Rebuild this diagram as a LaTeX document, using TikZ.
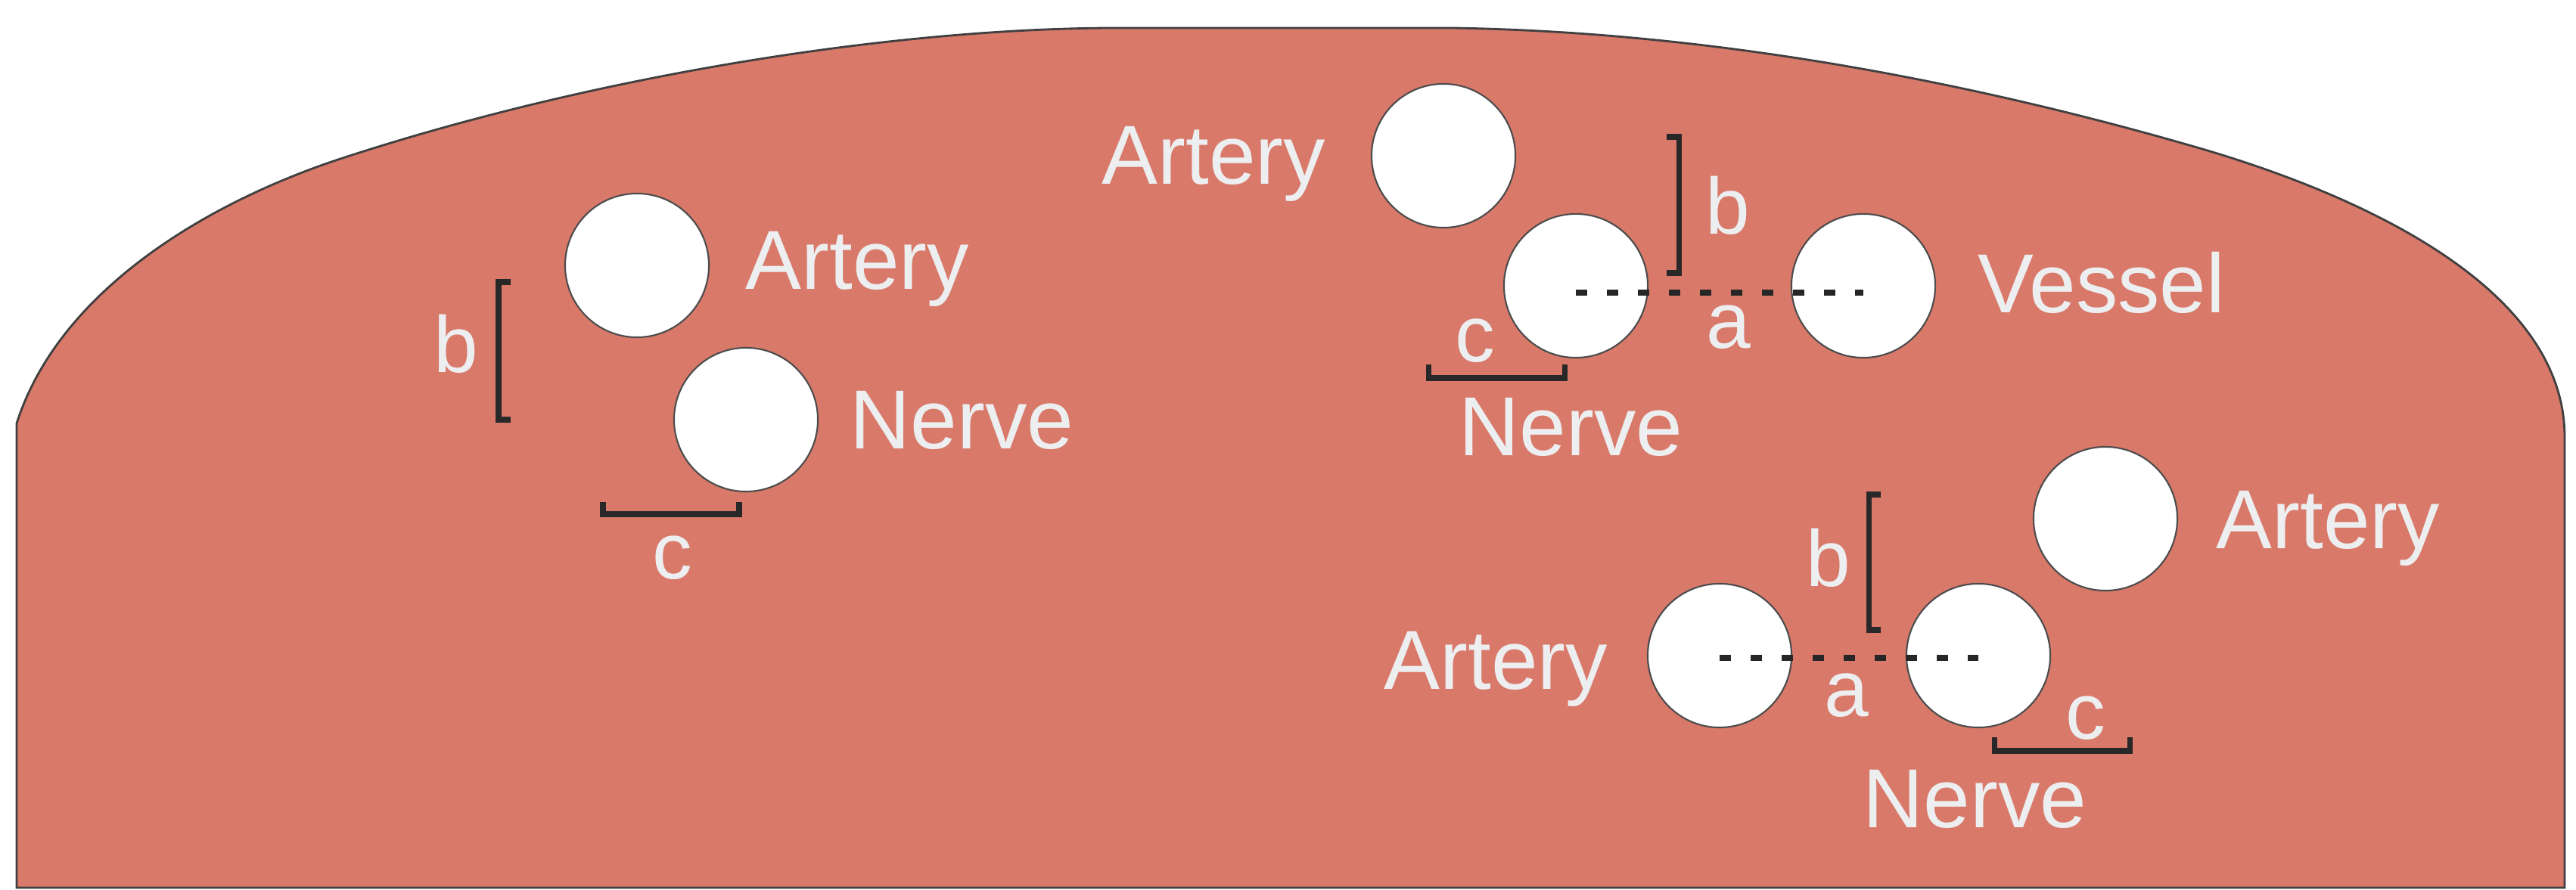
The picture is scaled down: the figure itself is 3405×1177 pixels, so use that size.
\documentclass[tikz,border=0pt]{standalone}
\usepackage{fontspec}
\setmainfont{Liberation Sans}
\definecolor{tissue}{RGB}{217,121,106}
\definecolor{labelcol}{RGB}{236,238,240}
\definecolor{ink}{RGB}{40,40,40}
\begin{document}
\begin{tikzpicture}[x=0.01cm,y=-0.01cm,
  vessel/.style={circle,draw=black!70,line width=0.6pt,fill=white,minimum size=1.9cm,inner sep=0pt},
  lab/.style={text=labelcol,font=\fontsize{31.5}{36}\selectfont,inner sep=0pt,anchor=base west},
  letter/.style={text=labelcol,font=\fontsize{30}{36}\selectfont,inner sep=0pt},
  bracketline/.style={draw=ink,line width=2pt},
  dotline/.style={draw=black!85,line width=2pt,dash pattern=on 0.15cm off 0.26cm}]
\useasboundingbox (0,0) rectangle (3405,1177);
% tissue body
\draw[fill=tissue,draw=black!75,line width=0.8pt]
  (22,1174) -- (22,560)
  .. controls (78,384) and (274,268) .. (450,210)
  .. controls (782,101) and (1178,37) .. (1478,37)
  -- (1919,37)
  .. controls (2249,42) and (2587,103) .. (2904,195)
  .. controls (3101,252) and (3390,373) .. (3390,578)
  -- (3390,1174) -- cycle;
% circles
\node[vessel] (g1art) at (842,351) {};
\node[vessel] (g1nrv) at (986,555) {};
\node[vessel] (g2art) at (1908,206) {};
\node[vessel] (g2nrv) at (2083,378) {};
\node[vessel] (g2ves) at (2463,378) {};
\node[vessel] (g3artR) at (2783,686) {};
\node[vessel] (g3artL) at (2273,867) {};
\node[vessel] (g3nrv) at (2615,867) {};
% dotted distances
\draw[dotline] ([yshift=-0.09cm]g2nrv.center) -- ([yshift=-0.09cm]g2ves.center);
\draw[dotline] ([yshift=-0.03cm]g3artL.center) -- ([yshift=-0.03cm]g3nrv.center);
% brackets
\draw[bracketline] (675,373) -- (659,373) -- (659,555) -- (675,555);
\draw[bracketline] (797,664) -- (797,680) -- (977,680) -- (977,664);
\draw[bracketline] (2203,181) -- (2219,181) -- (2219,361) -- (2203,361);
\draw[bracketline] (1888,482) -- (1888,500) -- (2068,500) -- (2068,482);
\draw[bracketline] (2486,654) -- (2470,654) -- (2470,833) -- (2486,833);
\draw[bracketline] (2636,975) -- (2636,993) -- (2815,993) -- (2815,975);
% names
\node[lab] (t1a) at (985,383) {Artery};
\node[lab] (t1n) at (1123,594) {Nerve};
\node[lab] (t2a) at (1456,244) {Artery};
\node[lab] (t2n) at (1928,603) {Nerve};
\node[lab] (t2v) at (2614,414) {Vessel};
\node[lab] (t3al) at (1829,912) {Artery};
\node[lab] (t3ar) at (2929,726) {Artery};
\node[lab] (t3n) at (2462,1095) {Nerve};
% letters
\node[letter] (l1b) at (603,455) {b};
\node[letter] (l1c) at (889,738) {c};
\node[letter] (l2b) at (2284,272) {b};
\node[letter] (l2a) at (2285,433) {a};
\node[letter] (l2c) at (1950,451) {c};
\node[letter] (l3b) at (2417,738) {b};
\node[letter] (l3a) at (2441,920) {a};
\node[letter] (l3c) at (2757,950) {c};
\end{tikzpicture}
\end{document}
